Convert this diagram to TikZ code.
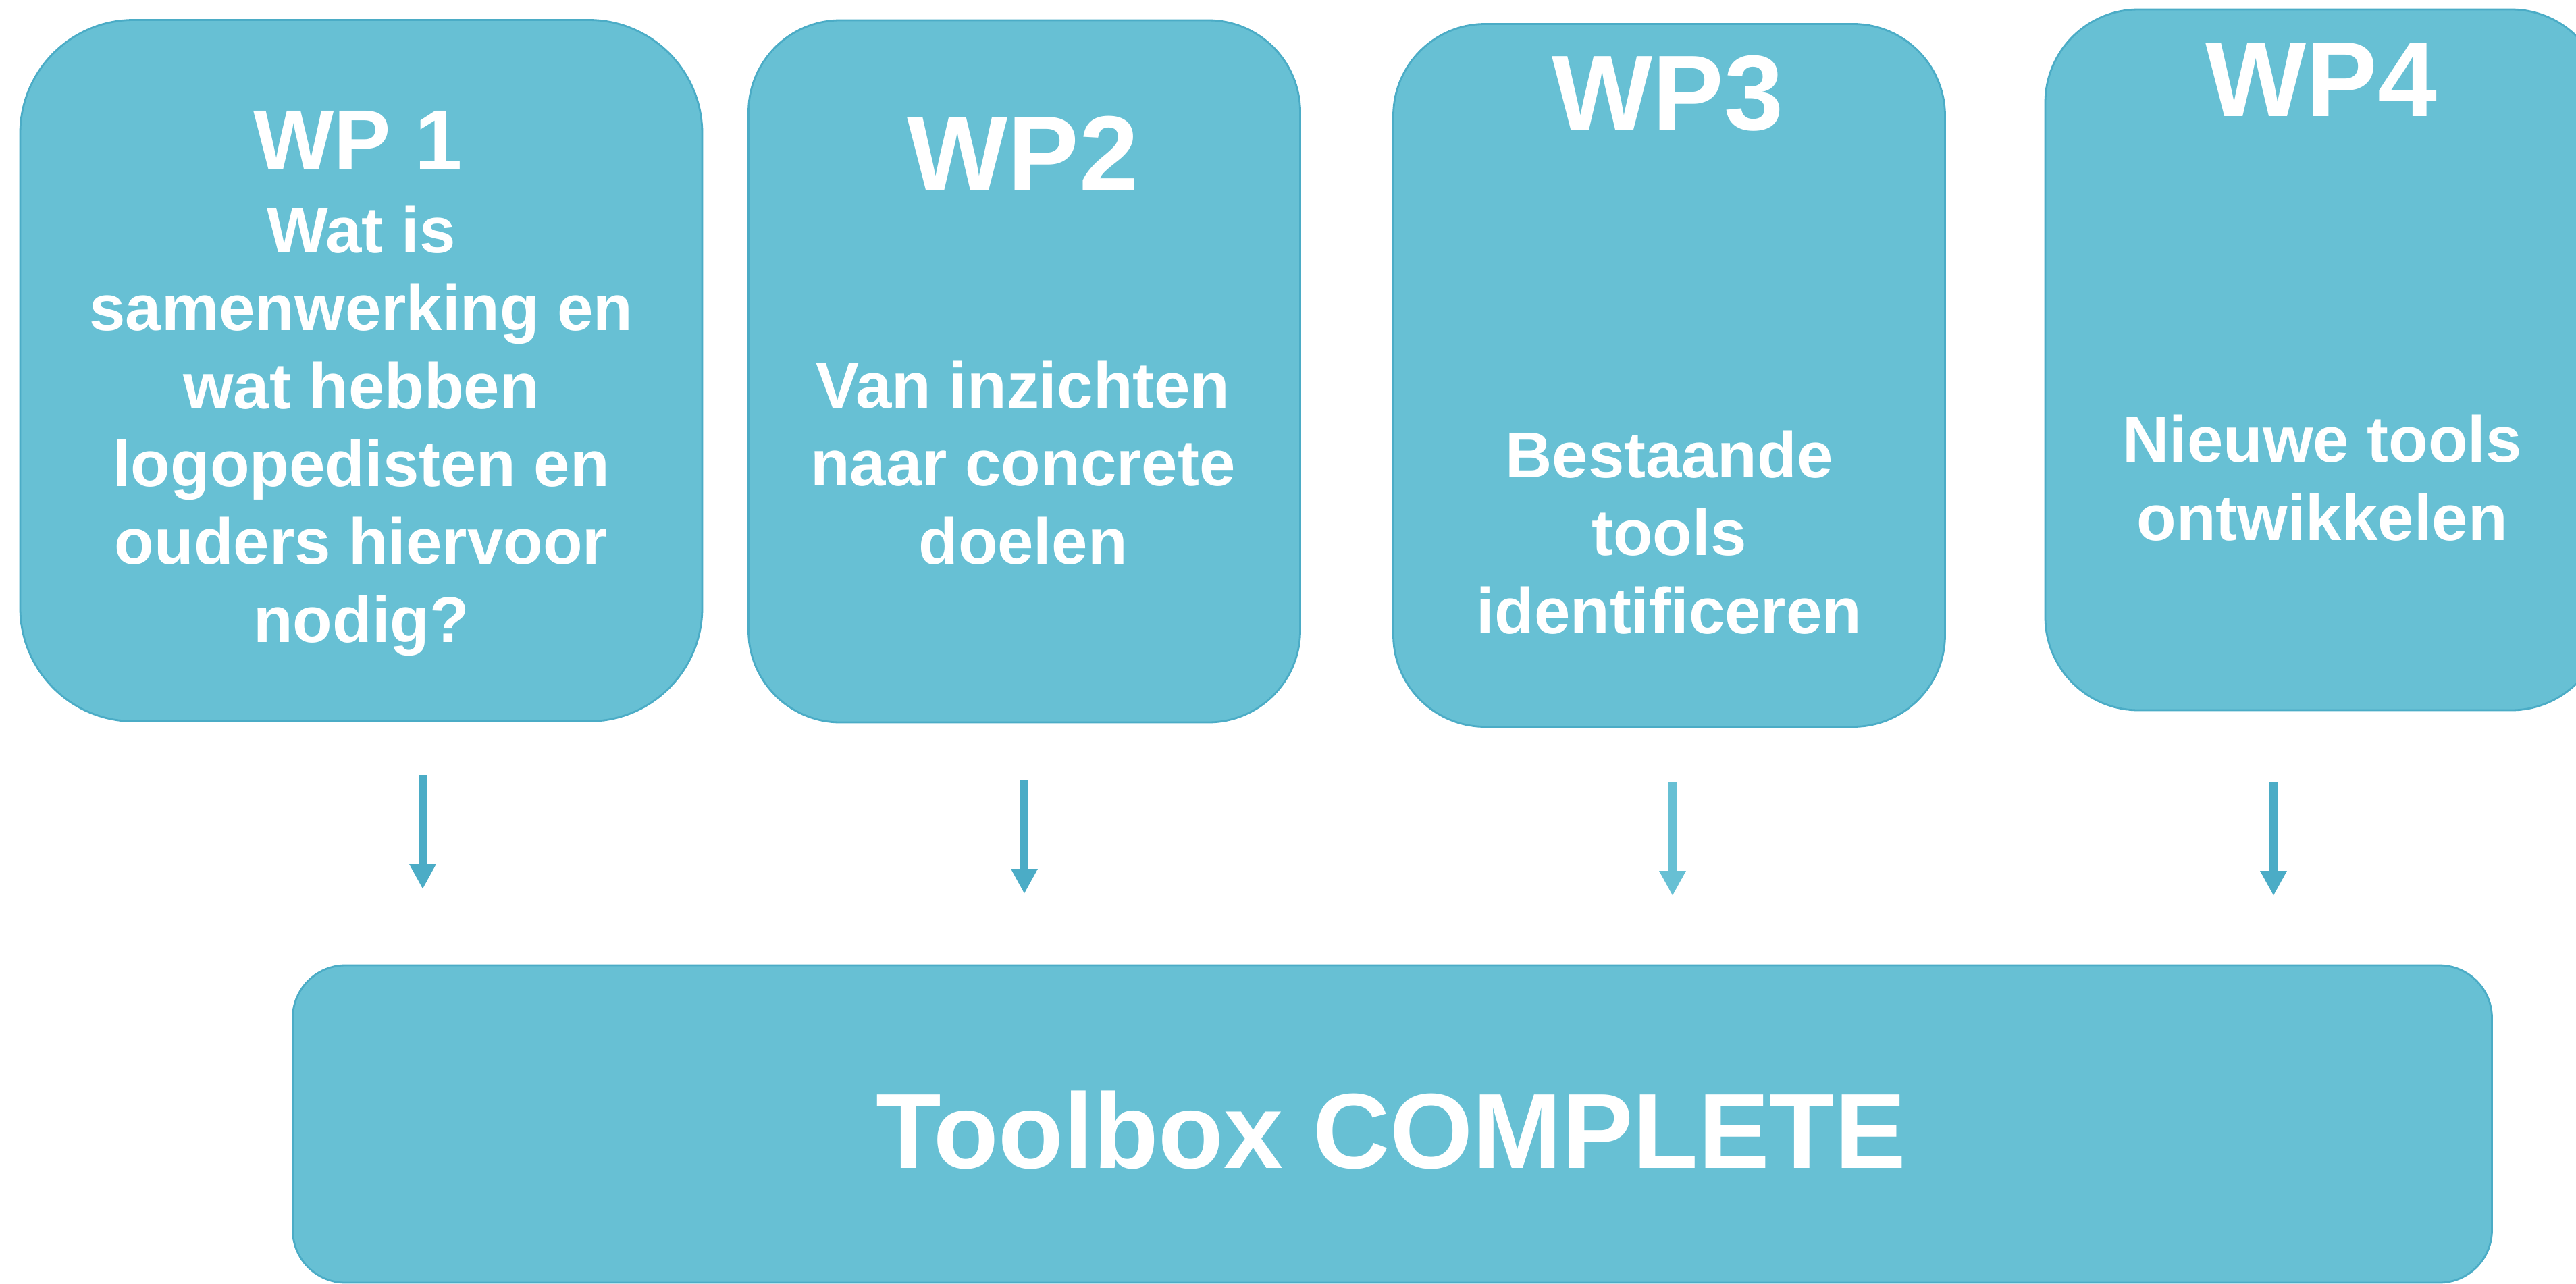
\documentclass[tikz,border=0pt]{standalone}
\usepackage{fontspec}
\setmainfont{Liberation Sans}
\usepackage{tikz}
\usetikzlibrary{positioning, arrows.meta}
\definecolor{wpfill}{HTML}{67C0D4}
\definecolor{wpline}{HTML}{4BACC6}

\begin{document}
\begin{tikzpicture}
        \tikzstyle{box} = [rectangle, draw=wpline, line width=0.8pt, fill=wpfill, inner sep=0pt]
        \tikzstyle{title} = [text=white, font=\fontsize{45}{54}\selectfont\bfseries, anchor=base, inner sep=0pt]
        \tikzstyle{body} = [text=white, font=\fontsize{27.3}{32.8}\selectfont\bfseries, align=center, anchor=base, inner sep=0pt]
        \tikzstyle{arrow} = [line width=0.12cm, draw=wpline, -{Triangle[width=0.37cm, length=0.37cm]}]

        \useasboundingbox (0,0) rectangle (38.15,-19.02);

        % work packages
        \node (wp1) [box, rounded corners=1.68cm, minimum width=10.1cm, minimum height=10.39cm] at (5.35,-5.49) {};
        \node (wp2) [box, rounded corners=1.36cm, minimum width=8.17cm, minimum height=10.4cm] at (15.17,-5.50) {};
        \node (wp3) [box, rounded corners=1.36cm, minimum width=8.17cm, minimum height=10.41cm] at (24.72,-5.56) {};
        \node (wp4) [box, rounded corners=1.38cm, minimum width=8.28cm, minimum height=10.38cm] at (34.43,-5.33) {};
        \node (toolbox) [box, rounded corners=0.78cm, minimum width=32.57cm, minimum height=4.7cm] at (20.62,-16.65) {};

        % texts (base = last line)
        \node (wp1title) [title, font=\fontsize{36}{43}\selectfont\bfseries] at (5.30,-2.51) {WP 1};
        \node (wp1text) [body] at (5.35,-9.51) {Wat is\\samenwerking en\\wat hebben\\logopedisten en\\ouders hiervoor\\nodig?};
        \node (wp2title) [title] at (15.15,-2.82) {WP2};
        \node (wp2text) [body] at (15.15,-8.35) {Van inzichten\\naar concrete\\doelen};
        \node (wp3title) [title] at (24.70,-1.92) {WP3};
        \node (wp3text) [body] at (24.72,-9.38) {Bestaande\\tools\\identificeren};
        \node (wp4title) [title] at (34.38,-1.72) {WP4};
        \node (wp4text) [body] at (34.39,-8.00) {Nieuwe tools\\ontwikkelen};
        \node (toolboxtitle) [title] at (20.60,-17.30) {Toolbox COMPLETE};

        % arrows down to the toolbox
        \coordinate (from1) at (6.26,-11.48);
        \coordinate (to1) at (6.26,-13.17);
        \coordinate (from2) at (15.17,-11.55);
        \coordinate (to2) at (15.17,-13.24);
        \coordinate (from3) at (24.77,-11.58);
        \coordinate (to3) at (24.77,-13.27);
        \coordinate (from4) at (33.67,-11.58);
        \coordinate (to4) at (33.67,-13.27);

        \draw [arrow] (from1) -- (to1);
        \draw [arrow] (from2) -- (to2);
        \draw [arrow, draw=wpfill] (from3) -- (to3);
        \draw [arrow] (from4) -- (to4);
    \end{tikzpicture}
\end{document}
